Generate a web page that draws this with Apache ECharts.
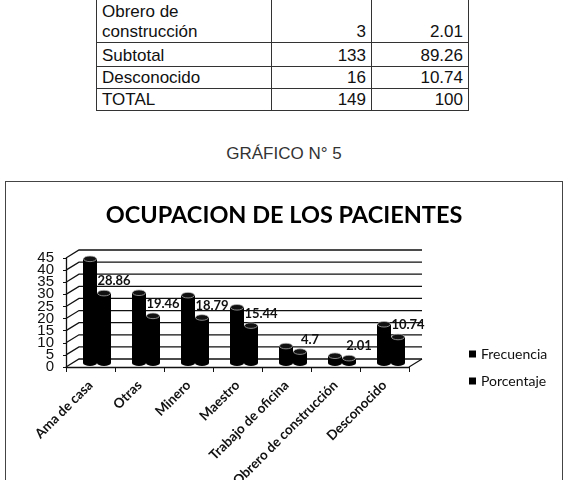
<!DOCTYPE html>
<html>
<head>
<meta charset="utf-8">
<script src="https://cdn.jsdelivr.net/npm/echarts@6/dist/echarts.min.js"></script>
<style>
body { margin: 0; background: #fff; width: 568px; height: 480px; overflow: hidden; position: relative;
       font-family: "Liberation Sans", Arial, sans-serif; color: #111; }
#tabla { position: absolute; left: 96px; top: -1px; border-collapse: collapse; font-size: 17px; }
#tabla td { border: 1.5px solid #333; padding: 0 5px; line-height: 20px; white-space: pre-line; vertical-align: bottom; }
#tabla td.num { text-align: right; }
#caption { position: absolute; left: 0; width: 568px; top: 144px; text-align: center; font-size: 17px; color: #333; }
#chart { position: absolute; left: 5px; top: 181px; width: 556px; height: 320px; border: 1.5px solid #444; }
</style>
</head>
<body>
<table id="tabla"></table>
<div id="caption">GRÁFICO N° 5</div>
<div id="chart"></div>
<script>
// datos
var categorias = ['Ama de casa', 'Otras', 'Minero', 'Maestro', 'Trabajo de oficina', 'Obrero de construcción', 'Desconocido'];
var frecuencia = [43, 29, 28, 23, 7, 3, 16];
var porcentaje = [28.86, 19.46, 18.79, 15.44, 4.7, 2.01, 10.74];
var ticksY = [0, 5, 10, 15, 20, 25, 30, 35, 40, 45];

// parte visible de la tabla de arriba
var filaNombre = ['Obrero de\nconstrucción', 'Subtotal', 'Desconocido', 'TOTAL'];
var filaFrec = ['3', '133', '16', '149'];
var filaPct = ['2.01', '89.26', '10.74', '100'];
var altoFila = [43, 24, 22, 22];

var tabla = document.getElementById('tabla');
for (var i = 0; i < filaNombre.length; ++i) {
    var tr = document.createElement('tr');
    tr.style.height = altoFila[i] + 'px';
    var c1 = document.createElement('td'); c1.textContent = filaNombre[i]; c1.style.width = '164px';
    var c2 = document.createElement('td'); c2.textContent = filaFrec[i]; c2.className = 'num'; c2.style.width = '89px';
    var c3 = document.createElement('td'); c3.textContent = filaPct[i]; c3.className = 'num'; c3.style.width = '86px';
    tr.appendChild(c1); tr.appendChild(c2); tr.appendChild(c3);
    tabla.appendChild(tr);
}

var depth = [13, -8]; // efecto 3d: pared del fondo
var anchoBarra = 14;

function cilindro(lado, conEtiqueta) {
    return function (params, api) {
        var cat = api.value(0), val = api.value(1);
        var base = api.coord([cat, 0]);
        var tope = api.coord([cat, val]);
        var cx = base[0] + depth[0] / 2 + lado * anchoBarra / 2;
        var yb = base[1] + depth[1] / 2;
        var yt = tope[1] + depth[1] / 2;
        var k = 3 / (anchoBarra / 2);
        var hijos = [
            { type: 'circle', x: cx, y: yb, scaleY: k, shape: { cx: 0, cy: 0, r: anchoBarra / 2 }, style: { fill: '#000' } },
            { type: 'rect', shape: { x: cx - anchoBarra / 2, y: yt, width: anchoBarra, height: yb - yt }, style: { fill: '#000' } },
            { type: 'circle', x: cx, y: yt, scaleY: k, shape: { cx: 0, cy: 0, r: anchoBarra / 2 - 0.5 },
              style: { fill: '#111', stroke: '#bbb', lineWidth: 1, strokeNoScale: true } }
        ];
        if (conEtiqueta) {
            hijos.push({ type: 'text', x: cx + 10, y: yt - 12,
                style: { text: String(val), fill: '#111', font: 'bold 13px Lato', align: 'center', verticalAlign: 'middle' } });
        }
        return { type: 'group', children: hijos };
    };
}

// paredes del fondo + etiquetas del eje y (el eje las oculta por solaparse)
function pared(params, api) {
    var cs = params.coordSys;
    var v = api.value(1);
    var y = api.coord([0, v])[1];
    var lineas = [
        { type: 'polyline', shape: { points: [[cs.x, y], [cs.x + depth[0], y + depth[1]], [cs.x + cs.width + depth[0], y + depth[1]]] },
          style: { stroke: '#111', fill: null, lineWidth: 1.3 } },
        { type: 'text', x: cs.x - 12, y: y,
          style: { text: String(v), fill: '#111', font: '15px "Liberation Sans"', align: 'right', verticalAlign: 'middle' } }
    ];
    if (v === 0) {
        lineas.push({ type: 'line', shape: { x1: cs.x + cs.width, y1: y, x2: cs.x + cs.width + depth[0], y2: y + depth[1] },
            style: { stroke: '#111', lineWidth: 1.3 } });
    }
    return { type: 'group', children: lineas };
}

var myChart = echarts.init(document.getElementById('chart'));
var option = {
    animation: false,
    title: {
        text: 'OCUPACION DE LOS PACIENTES',
        left: 'center',
        top: 16,
        textStyle: { fontFamily: 'Lato', fontWeight: 'bold', fontSize: 23.5, color: '#000' }
    },
    legend: {
        data: ['Frecuencia', 'Porcentaje'],
        orient: 'vertical',
        left: 458,
        top: 160,
        icon: 'rect',
        itemWidth: 7,
        itemHeight: 7,
        itemGap: 13,
        textStyle: { fontFamily: 'Lato', fontSize: 14, color: '#111' }
    },
    grid: { left: 60, top: 76, width: 343, height: 109 },
    xAxis: {
        type: 'category',
        data: categorias,
        axisLine: { lineStyle: { color: '#111', width: 1.3 } },
        axisTick: { show: true, length: 5, lineStyle: { color: '#111' } },
        axisLabel: { interval: 0, rotate: 45, margin: 16, fontFamily: 'Lato', fontWeight: 'bold', fontSize: 13.5, color: '#111' },
        splitLine: { show: false }
    },
    yAxis: {
        type: 'value',
        min: 0,
        max: 45,
        interval: 5,
        axisLine: { show: true, lineStyle: { color: '#111', width: 1.3 } },
        axisTick: { show: true, length: 3, lineStyle: { color: '#111' } },
        axisLabel: { show: false },
        splitLine: { show: false }
    },
    series: [
        {
            type: 'custom',
            renderItem: pared,
            data: ticksY.map(function (v) { return [0, v]; }),
            clip: false,
            z: 1,
            silent: true
        },
        {
            name: 'Frecuencia',
            type: 'custom',
            itemStyle: { color: '#000' },
            renderItem: cilindro(-1, false),
            data: frecuencia.map(function (v, i) { return [i, v]; }),
            z: 3
        },
        {
            name: 'Porcentaje',
            type: 'custom',
            itemStyle: { color: '#000' },
            renderItem: cilindro(1, true),
            data: porcentaje.map(function (v, i) { return [i, v]; }),
            z: 3
        }
    ]
};
myChart.setOption(option);
</script>
</body>
</html>
